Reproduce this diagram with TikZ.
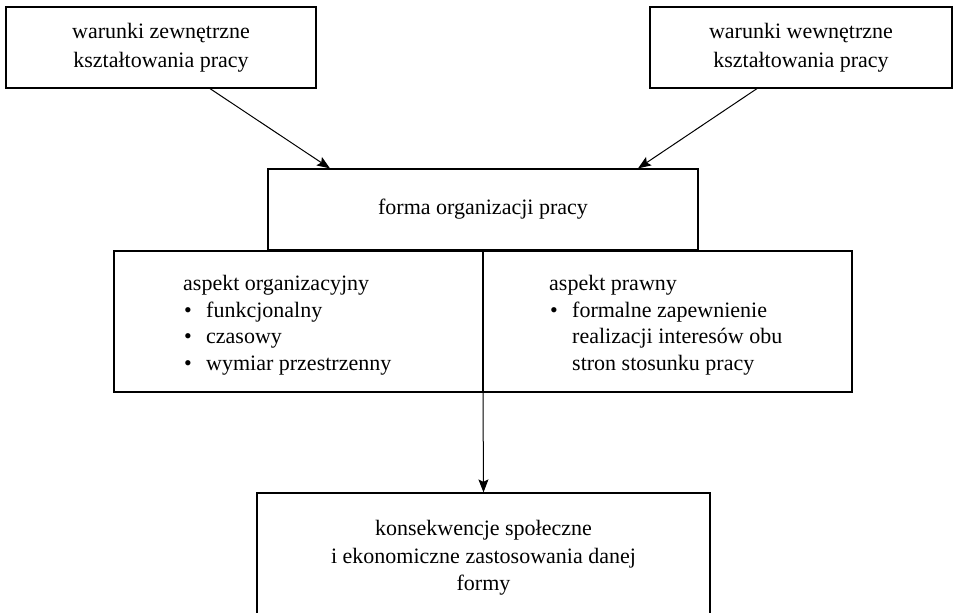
\documentclass[tikz,border=0pt]{standalone}
\usepackage{fontspec}
\setmainfont{Liberation Serif}
\usetikzlibrary{arrows.meta}
% bullet item and continuation indent for the aspect lists
\newcommand{\listitem}[1]{\makebox[23pt][l]{\hspace{1pt}\textbullet}#1}
\newcommand{\listcont}[1]{\hspace*{23pt}#1}
\begin{document}
\begin{tikzpicture}[x=1pt,y=-1pt,
  box/.style={draw, line width=1.2pt, inner sep=0pt, align=center,
    font=\fontsize{22}{27.5}\selectfont},
  headbox/.style={box, font=\fontsize{22}{29}\selectfont},
  listtext/.style={anchor=north west, inner sep=0pt, align=left,
    font=\fontsize{22}{26.7}\selectfont},
  conn/.style={line width=1pt, -{Stealth[length=13pt,width=10pt,inset=2.5pt]}}]
\useasboundingbox (0,0) rectangle (956,613);
\clip (0,0) rectangle (956,613);

% conditions shaping the work
\node[headbox, minimum width=310pt, minimum height=81pt] (ext) at (161,47.5)
  {warunki zewnętrzne\\kształtowania pracy};
\node[headbox, minimum width=302pt, minimum height=81pt] (int) at (801,47.5)
  {warunki wewnętrzne\\kształtowania pracy};

% central form
\node[box, minimum width=430pt, minimum height=81pt] (forma) at (483,209.5)
  {forma organizacji pracy};

% two aspects in one split frame
\node[draw, line width=1.2pt, inner sep=0pt, minimum width=738pt,
  minimum height=141pt] (aspekty) at (483,321.5) {};
\draw[line width=1.2pt] (aspekty.north) -- (aspekty.south);
\node[listtext] (org) at (183,275)
  {aspekt organizacyjny\\
   \listitem{funkcjonalny}\\
   \listitem{czasowy}\\
   \listitem{wymiar przestrzenny}};
\node[listtext] (praw) at (549,275)
  {aspekt prawny\\
   \listitem{formalne zapewnienie}\\
   \listcont{realizacji interesów obu}\\
   \listcont{stron stosunku pracy}};

% consequences
\node[box, minimum width=453pt, minimum height=130pt] (konsek) at (483.5,558)
  {konsekwencje społeczne\\i ekonomiczne zastosowania danej\\formy};

% connectors
\draw[conn] ([xshift=49pt]ext.south) -- ([xshift=-153pt]forma.north);
\draw[conn] ([xshift=-44pt]int.south) -- ([xshift=155pt]forma.north);
\draw[conn] (aspekty.south) -- (konsek.north);
\end{tikzpicture}
\end{document}
